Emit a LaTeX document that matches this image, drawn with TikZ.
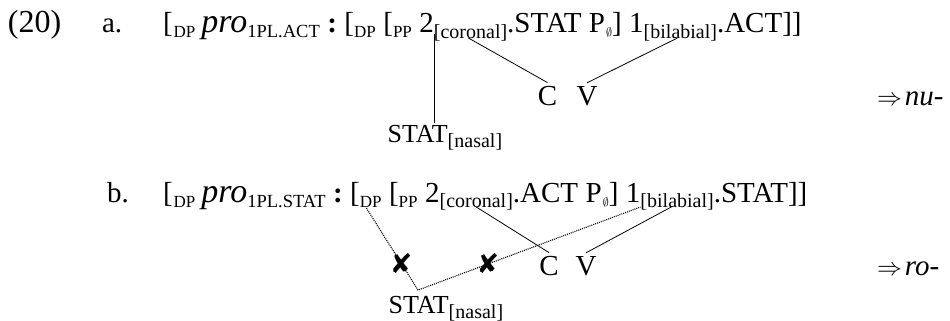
\documentclass[tikz,border=0pt]{standalone}
\usepackage{fontspec}
\setmainfont{Liberation Serif}
\newfontfamily\symfont{DejaVu Sans}
\usetikzlibrary{calc}
\newcommand\mainsz{\fontsize{29}{33}\selectfont}
\newcommand\catsb[1]{\raisebox{-5pt}{\fontsize{17}{19}\selectfont #1}}
\newcommand\glsb[1]{\raisebox{-5pt}{\fontsize{18.5}{20}\selectfont #1}}
\newcommand\ftsb[1]{\raisebox{-5.5pt}{\fontsize{20}{22}\selectfont #1}}
\newcommand\prof{{\fontsize{34}{38}\selectfont\itshape pro}}
\newcommand\nullsb{\kern1pt\raisebox{-4pt}{\fontsize{13}{14}\selectfont$\emptyset$}}
\newcommand\gapx{\kern7.5pt}
\begin{document}
\begin{tikzpicture}[x=1pt,y=1pt,
  seg/.style={inner sep=0pt,outer sep=0pt,anchor=base west,font=\mainsz},
  lbl/.style={inner sep=1.5pt,font=\mainsz},
  cv/.style={inner sep=3pt,anchor=base,font=\mainsz},
  assoc/.style={line width=0.8pt},
  delink/.style={line width=1.1pt,dash pattern=on 1pt off 1pt},
  xmark/.style={inner sep=0pt,font=\symfont\fontsize{27}{27}\selectfont}]
\useasboundingbox (0,0) rectangle (950,-321);

% ---- (20) a.
\node[seg] (num) at (8,-33) {\fontsize{32}{34}\selectfont (20)};
\node[seg] (la) at (102,-33) {a.};
\node[seg] (a0) at (163,-33) {[\kern1pt\catsb{DP}\kern6pt\prof\glsb{1PL.ACT}\gapx\textbf{:}\gapx[\catsb{DP}\gapx[\catsb{PP}};
\node[seg] (twoa) at (a0.base east) {\gapx2};
\node[seg] (cora) at (twoa.base east) {\ftsb{[coronal]}};
\node[seg] (a3) at (cora.base east) {.STAT\gapx P\nullsb]\gapx1};
\node[seg] (bila) at (a3.base east) {\ftsb{[bilabial]}};
\node[seg] (a5) at (bila.base east) {.ACT]]};

\node[cv] (ca) at (547.5,-105) {C};
\node[cv] (va) at (587,-105) {V};
\node[lbl,anchor=base west] (stata) at (386,-142) {\fontsize{26}{30}\selectfont STAT\ftsb{[nasal]}};
\node[seg] (resa) at (877,-105) {{\fontsize{25}{27}\selectfont$\Rightarrow$}\kern3pt\textit{nu-}};

\coordinate (tl) at ($(twoa.south east)+(0,-1)$);
\draw[assoc] (tl) -- (tl |- stata.north);
\draw[assoc] ($(cora.base west)!0.47!(cora.base east)+(0,-5)$) -- (ca.north);
\draw[assoc] ($(bila.base west)!0.46!(bila.base east)+(0,-5)$) -- (va.north);

% ---- b.
\node[seg] (lb) at (107,-202) {b.};
\node[seg] (b0) at (163,-202) {[\kern1pt\catsb{DP}\kern6pt\prof\glsb{1PL.STAT}\gapx\textbf{:}\gapx[};
\node[seg] (dpb) at (b0.base east) {\catsb{DP}};
\node[seg] (b2) at (dpb.base east) {\gapx[\catsb{PP}};
\node[seg] (twob) at (b2.base east) {\gapx2};
\node[seg] (corb) at (twob.base east) {\ftsb{[coronal]}};
\node[seg] (b5) at (corb.base east) {.ACT\gapx P\nullsb]\gapx1};
\node[seg] (bilb) at (b5.base east) {\ftsb{[bilabial]}};
\node[seg] (b7) at (bilb.base east) {.STAT]]};

\node[cv] (cb) at (549,-275) {C};
\node[cv] (vb) at (586,-275) {V};
\node[lbl,anchor=base west] (statb) at (387,-313) {\fontsize{26}{30}\selectfont STAT\ftsb{[nasal]}};
\node[seg] (resb) at (877,-275) {{\fontsize{25}{27}\selectfont$\Rightarrow$}\kern3pt\textit{ro-}};

\draw[assoc] ($(corb.base west)!0.5!(corb.base east)+(0,-5)$) -- (cb.north);
\draw[assoc] ($(bilb.base west)!0.42!(bilb.base east)+(0,-5)$) -- (vb.north);
\coordinate (kink) at ($(statb.north west)+(31,4)$);
\coordinate (ds) at ($(dpb.base west)!0.3!(dpb.base east)+(0,-6)$);
\coordinate (de) at ($(bilb.base west)+(0,-5)$);
\draw[delink] (ds) -- (kink) -- (de);
\node[xmark] (x1) at ($(ds)!0.675!(kink)$) {✘};
\node[xmark] (x2) at ($(kink)!0.314!(de)$) {✘};
\end{tikzpicture}
\end{document}
